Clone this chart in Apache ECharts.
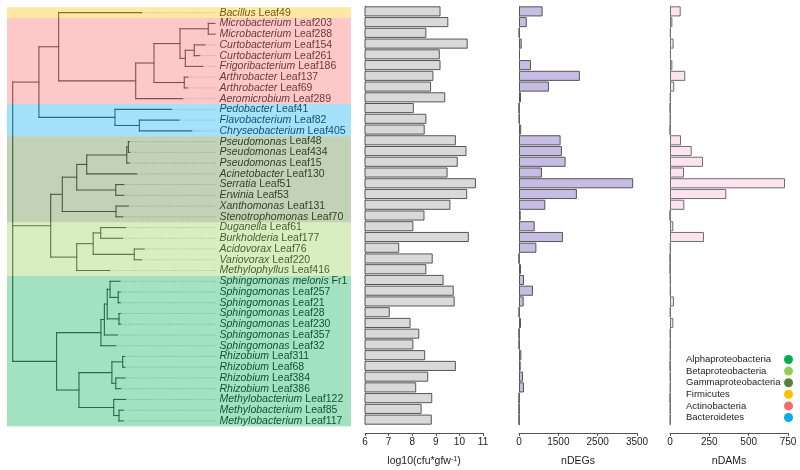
<!DOCTYPE html>
<html><head><meta charset="utf-8">
<script src="https://cdn.jsdelivr.net/npm/echarts@6/dist/echarts.min.js"></script>
<style>html,body{margin:0;padding:0;background:#fff}#c{width:800px;height:470px}</style>
</head><body><div id="c"></div>
<script>
// ---------- DATA ----------
const genus = ['Bacillus','Microbacterium','Microbacterium','Curtobacterium','Curtobacterium','Frigoribacterium','Arthrobacter','Arthrobacter','Aeromicrobium',
  'Pedobacter','Flavobacterium','Chryseobacterium',
  'Pseudomonas','Pseudomonas','Pseudomonas','Acinetobacter','Serratia','Erwinia','Xanthomonas','Stenotrophomonas',
  'Duganella','Burkholderia','Acidovorax','Variovorax','Methylophyllus',
  'Sphingomonas melonis','Sphingomonas','Sphingomonas','Sphingomonas','Sphingomonas','Sphingomonas','Sphingomonas',
  'Rhizobium','Rhizobium','Rhizobium','Rhizobium','Methylobacterium','Methylobacterium','Methylobacterium'];
const strain = ['Leaf49','Leaf203','Leaf288','Leaf154','Leaf261','Leaf186','Leaf137','Leaf69','Leaf289',
  'Leaf41','Leaf82','Leaf405',
  'Leaf48','Leaf434','Leaf15','Leaf130','Leaf51','Leaf53','Leaf131','Leaf70',
  'Leaf61','Leaf177','Leaf76','Leaf220','Leaf416',
  'Fr1','Leaf257','Leaf21','Leaf28','Leaf230','Leaf357','Leaf32',
  'Leaf311','Leaf68','Leaf384','Leaf386','Leaf122','Leaf85','Leaf117'];
const phylumNames = ['Alphaproteobacteria','Betaproteobacteria','Gammaproteobacteria','Firmicutes','Actinobacteria','Bacteroidetes'];
const rowPhylum = [3, 4,4,4,4,4,4,4,4, 5,5,5, 2,2,2,2,2,2,2,2, 1,1,1,1,1, 0,0,0,0,0,0,0,0,0,0,0,0,0,0];

// tree: internal nodes (parent, depth) and leaves (parent, tip depth); label column at depth 100
const nodeNames  = ['root','A','B','C','D','F','G','H','I','E','J','K','Q','R','S','T','U','U1','V','W','X','Y','Z','AA','P','SG','SG2','SG3','SG4','SG5','SG6','RM','RH','RH1','RH2','MB','MB2'];
const nodeParent = [null,'root','A','B','C','D','F','F','H','D','A','J','root','Q','R','S','T','U','S','R','Q','X','Y','Y','root','P','SG','SG2','SG3','SG4','SG3','P','RM','RH','RH','RM','MB'];
const nodeDepth  = [0,12.9,22.6,60.5,69.5,82.3,96.2,84.9,89.3,84.4,50.3,62.3,18.7,24.4,31.5,36.4,56.1,56.9,50.7,50.8,31.5,39.6,43.3,59.8,21.6,43.4,45.1,46.5,47.9,51.9,52.3,32.6,48.8,54.1,50.7,49.7,52.3];
const leafParent = ['B','G','G','I','I','H','E','E','C','J','K','K','U1','U1','U','T','V','V','W','W','Z','Z','AA','AA','X','SG4','SG5','SG5','SG6','SG6','SG2','SG','RH1','RH1','RH2','RH2','MB','MB2','MB2'];
const leafDepth  = [63.5,99.5,99.5,94.6,92.1,93.6,86.3,86.0,83.6,78.2,81.8,88.1,57.5,57.7,57.5,61.0,54.7,54.7,56.9,54.1,55.7,54.1,64.7,63.5,47.9,52.8,52.9,52.9,53.1,53.1,51.5,50.7,55.2,55.2,55.2,53.1,55.7,54.4,54.4];
const labelDepth = 100;

const cfuLog10 = [9.2,9.53,8.6,10.35,9.17,9.2,8.9,8.8,9.4,8.07,8.6,8.53,9.85,10.3,9.93,9.5,10.7,10.33,9.62,8.52,8.05,10.4,7.45,8.87,8.6,9.33,9.76,9.8,7.05,7.93,8.3,8.05,8.55,9.85,8.68,8.17,8.85,8.4,8.83];
const nDEGs = [700,230,10,80,30,355,1805,888,60,0,10,65,1234,1273,1382,681,3386,1717,781,50,465,1303,515,0,60,148,414,139,5,59,0,5,70,50,118,148,0,0,0];
const nDAMs = [68,15,5,23,6,15,97,27,4,0,3,0,70,138,210,89,731,358,91,0,21,216,4,0,0,4,4,25,3,21,3,3,3,0,3,3,0,2,2];

const cfuTicks = [6,7,8,9,10,11];
const degTicks = [0,3500/3,7000/3,3500];
const degTickLabels = ['0','1500','2500','3500'];
const damTicks = [0,250,500,750];

// ---------- STYLES ----------
const FONT = '"Liberation Sans", Arial, Helvetica, sans-serif';
const phylumColors = ['#00b050','#92d050','#548235','#ffc000','#ff6666','#00b0f0'];

// ---------- TREE LAYOUT (from data) ----------
const depthOf = {}; nodeNames.forEach((n,i)=>depthOf[n]=nodeDepth[i]);
const childYs = {}; nodeNames.forEach(n=>childYs[n]=[]);
const yMemo = {};
function nodeY(n){
  if (yMemo[n] !== undefined) return yMemo[n];
  const ys = [];
  leafParent.forEach((p,i)=>{ if(p===n) ys.push(i); });
  nodeNames.forEach((m,j)=>{ if(nodeParent[j]===n) ys.push(nodeY(m)); });
  childYs[n] = ys;
  const y = (Math.min(...ys)+Math.max(...ys))/2;
  yMemo[n] = y; return y;
}
nodeNames.forEach(nodeY);
const segs = [];
leafParent.forEach((p,i)=>{
  segs.push([depthOf[p], i, leafDepth[i], i, 0]);
  if (leafDepth[i] < labelDepth) segs.push([leafDepth[i], i, labelDepth, i, 1]);
});
nodeNames.forEach((n,j)=>{
  const ys = childYs[n];
  segs.push([depthOf[n], Math.min(...ys), depthOf[n], Math.max(...ys), 0]);
  if (nodeParent[j]) segs.push([depthOf[nodeParent[j]], yMemo[n], depthOf[n], yMemo[n], 0]);
});

// bands from contiguous runs
function runsFor(k){
  const out=[]; let s=-1;
  rowPhylum.forEach((p,i)=>{
    if(p===k && s<0) s=i;
    if(p!==k && s>=0){ out.push([s,i-1]); s=-1; }
  });
  if(s>=0) out.push([s,rowPhylum.length-1]);
  return out;
}

const rows = genus.map((g,i)=>g+' '+strain[i]);

const chart = echarts.init(document.getElementById('c'), null, {renderer:'canvas'});

function valueX(grid, ticks, extra){
  return Object.assign({
    gridIndex:grid, type:'value', offset:8, min:ticks[0], max:ticks[ticks.length-1],
    axisLine:{show:true, onZero:false, lineStyle:{color:'#555', width:1}},
    axisTick:{show:true, length:3, lineStyle:{color:'#555'}, customValues:ticks},
    axisLabel:{fontSize:10, color:'#222', margin:4, fontFamily:FONT, customValues:ticks},
    splitLine:{show:false},
    nameLocation:'middle', nameGap:23,
    nameTextStyle:{fontSize:10.5, color:'#222', fontFamily:FONT,
      rich:{sup:{fontSize:7, color:'#222', fontFamily:FONT, verticalAlign:'top'}}}
  }, extra);
}
function catY(grid){
  return {gridIndex:grid, type:'category', data:rows, inverse:true,
    axisLine:{show:true, lineStyle:{color:'#999', width:1}},
    axisTick:{show:false}, axisLabel:{show:false}, splitLine:{show:false}};
}
function barSeries(idx, data, fill, border){
  return {type:'bar', xAxisIndex:idx, yAxisIndex:idx, data:data, barCategoryGap:'6%', silent:true,
    itemStyle:{color:fill, borderColor:border, borderWidth:1}, z:2};
}

const bandSeries = phylumNames.map((name,k)=>({
  type:'custom', name:name, xAxisIndex:0, yAxisIndex:0, silent:true, z:5,
  itemStyle:{color:phylumColors[k]},
  data: runsFor(k),
  renderItem:(params, api)=>{
    const cs = params.coordSys;
    const a = api.coord([0, api.value(0)-0.5]);
    const b = api.coord([0, api.value(1)+0.5]);
    return {type:'rect', shape:{x:cs.x, y:a[1], width:cs.width, height:b[1]-a[1]},
      style:{fill:phylumColors[k], opacity:0.36}};
  }
}));

const option = {
  animation:false,
  backgroundColor:'#fff',
  textStyle:{fontFamily:FONT},
  grid:[
    {left:7, top:7.3, width:344, height:419, outerBoundsMode:'none', containLabel:false},
    {left:365, top:6, width:118, height:419, outerBoundsMode:'none', containLabel:false},
    {left:519, top:6, width:118, height:419, outerBoundsMode:'none', containLabel:false},
    {left:670, top:6, width:118, height:419, outerBoundsMode:'none', containLabel:false}
  ],
  xAxis:[
    {gridIndex:0, type:'value', min:-2.8, max:166.4, show:false},
    valueX(1, cfuTicks, {name:'log10(cfu*gfw{sup|-1})'}),
    valueX(2, degTicks, {name:'nDEGs',
      axisLabel:{fontSize:10, color:'#222', margin:4, fontFamily:FONT, customValues:degTicks,
        formatter:(v)=>degTickLabels[Math.round(v*3/3500)]}}),
    valueX(3, damTicks, {name:'nDAMs'})
  ],
  yAxis:[
    {gridIndex:0, type:'value', min:-0.5, max:38.5, inverse:true, show:false},
    catY(1), catY(2), catY(3)
  ],
  legend:{
    data:phylumNames, orient:'vertical', left:686, top:354, padding:0, align:'right', icon:'circle',
    itemWidth:9, itemHeight:9, itemGap:0.6, selectedMode:false,
    formatter:(name)=>'{a|'+name+'}',
    textStyle:{fontSize:9.5, color:'#222', fontFamily:FONT, lineHeight:11,
      rich:{a:{width:93, align:'left', fontSize:9.5, color:'#222', fontFamily:FONT, lineHeight:11}}}
  },
  series:[
    {type:'custom', xAxisIndex:0, yAxisIndex:0, silent:true, z:2, data:segs,
      renderItem:(params, api)=>{
        const p1 = api.coord([api.value(0), api.value(1)]);
        const p2 = api.coord([api.value(2), api.value(3)]);
        const dotted = api.value(4) === 1;
        return {type:'line', shape:{x1:p1[0], y1:p1[1], x2:p2[0], y2:p2[1]},
          style: dotted ? {stroke:'#a0a0a0', lineWidth:0.8, lineDash:[1,1.5]}
                        : {stroke:'#444', lineWidth:1.1, lineCap:'square'}};
      }},
    {type:'custom', xAxisIndex:0, yAxisIndex:0, silent:true, z:2,
      data: rows.map((r,i)=>[labelDepth, i]),
      renderItem:(params, api)=>{
        const i = api.value(1);
        const p = api.coord([api.value(0), i]);
        return {type:'text', x:p[0]+3.5, y:p[1],
          style:{text:'{g|'+genus[i]+'} {s|'+strain[i]+'}',
            rich:{g:{fontStyle:'italic', fontSize:10.5, fontFamily:FONT, fill:'#1a1a1a'},
                  s:{fontSize:10.5, fontFamily:FONT, fill:'#1a1a1a'}},
            fontSize:10.5, fontFamily:FONT, fill:'#1a1a1a', verticalAlign:'middle', align:'left'}};
      }},
    ...bandSeries,
    barSeries(1, cfuLog10, '#d9d9d9', '#555'),
    barSeries(2, nDEGs, '#c6bce4', '#555'),
    barSeries(3, nDAMs, '#fde3ee', '#6e6e6e')
  ]
};
chart.setOption(option);
</script>
</body></html>
